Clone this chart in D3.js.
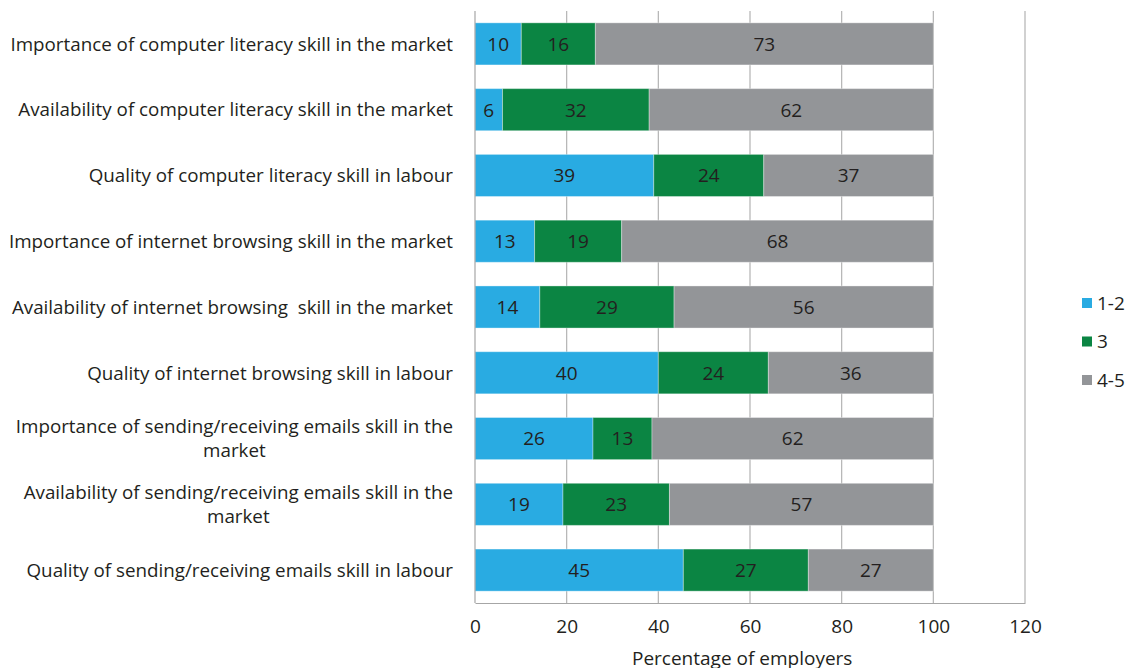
<!DOCTYPE html>
<html>
<head>
<meta charset="utf-8">
<script src="https://cdn.jsdelivr.net/npm/d3@7"></script>
<style>
  body { margin: 0; background: #fff; }
  svg text { font-family: "Open Sans", "Noto Sans", sans-serif; fill: #231f20; white-space: pre; }
</style>
</head>
<body>
<div id="chart"></div>
<script>
// Data (shares of employers, %)
var categories = [
  "Importance of computer literacy skill in the market",
  "Availability of computer literacy skill in the market",
  "Quality of computer literacy skill in labour",
  "Importance of internet browsing skill in the market",
  "Availability of internet browsing  skill in the market",
  "Quality of internet browsing skill in labour",
  "Importance of sending/receiving emails skill in the|market",
  "Availability of sending/receiving emails skill in the|market",
  "Quality of sending/receiving emails skill in labour"
];
var low = [10, 6, 39, 13, 14, 40, 26, 19, 45];   // 1-2
var mid = [16, 32, 24, 19, 29, 24, 13, 23, 27];  // 3
var high = [73, 62, 37, 68, 56, 36, 62, 57, 27]; // 4-5
var seriesNames = ["1-2", "3", "4-5"];
var xTicks = [0, 20, 40, 60, 80, 100, 120];
var colors = ["#29abe2", "#0b8543", "#939598"];

var width = 1125, height = 668;
var margin = {top: 11, right: 100, bottom: 65, left: 475};
var fs = 19;

var rows = categories.map(function(c, i) {
  return {cat: c, "1-2": low[i], "3": mid[i], "4-5": high[i]};
});

// bars fill to 100% (the rounded labels don't always add up)
var stack = d3.stack().keys(seriesNames).offset(d3.stackOffsetExpand);
var layers = stack(rows);

var x = d3.scaleLinear().domain([0, 120]).range([margin.left, 1025]);
var y = d3.scaleBand().domain(categories).range([margin.top, height - margin.bottom])
  .paddingInner(0.36).paddingOuter(0.18);

var svg = d3.select("#chart").append("svg")
  .attr("width", width)
  .attr("height", height);

// gridlines
svg.append("g")
  .selectAll("line")
  .data(xTicks.slice(1))
  .enter().append("line")
  .attr("x1", function(d) { return x(d); })
  .attr("x2", function(d) { return x(d); })
  .attr("y1", margin.top)
  .attr("y2", height - margin.bottom)
  .attr("stroke", "#b3b3b3")
  .attr("stroke-width", 1.2);

// bars
var layer = svg.append("g").selectAll("g")
  .data(layers)
  .enter().append("g")
  .attr("fill", function(d, i) { return colors[i]; });

layer.selectAll("rect")
  .data(function(d) { return d; })
  .enter().append("rect")
  .attr("x", function(d) { return x(d[0] * 100); })
  .attr("width", function(d) { return x(d[1] * 100) - x(d[0] * 100); })
  .attr("y", function(d) { return y(d.data.cat); })
  .attr("height", y.bandwidth())
  .attr("stroke", "#ffffff")
  .attr("stroke-opacity", 0.35)
  .attr("stroke-width", 1);

// value labels
layer.selectAll("text")
  .data(function(d) { return d.map(function(p) { return {p: p, key: d.key}; }); })
  .enter().append("text")
  .attr("x", function(d) { return x((d.p[0] + d.p[1]) / 2 * 100); })
  .attr("y", function(d) { return y(d.p.data.cat) + y.bandwidth() / 2; })
  .attr("dy", "0.36em")
  .attr("text-anchor", "middle")
  .attr("font-size", fs)
  .text(function(d) { return d.p.data[d.key]; });

// axes
var xAxis = d3.axisBottom(x).tickValues(xTicks).tickSize(0).tickPadding(17);
var gx = svg.append("g")
  .attr("transform", "translate(0," + (height - margin.bottom) + ")")
  .call(xAxis);
gx.select(".domain").attr("stroke", "#a6a6a6").attr("stroke-width", 1.2);
gx.selectAll("text").attr("font-size", fs).style("font-family", null);

svg.append("line")
  .attr("x1", margin.left).attr("x2", margin.left)
  .attr("y1", margin.top).attr("y2", height - margin.bottom)
  .attr("stroke", "#a6a6a6").attr("stroke-width", 1.2);

svg.append("text")
  .attr("x", x(58.3))
  .attr("y", 665)
  .attr("text-anchor", "middle")
  .attr("font-size", fs)
  .text("Percentage of employers");

// category labels: right-aligned, wrapped lines centred under the first
var labelRight = 453;
var lfs = 18.8;
categories.forEach(function(c) {
  var lines = c.split("|");
  var cy = y(c) + y.bandwidth() / 2;
  if (lines.length === 1) {
    svg.append("text")
      .attr("x", labelRight).attr("y", cy).attr("dy", "0.36em")
      .attr("text-anchor", "end").attr("font-size", lfs)
      .text(lines[0]);
  } else {
    var t = svg.append("text")
      .attr("x", labelRight).attr("y", cy - 12).attr("dy", "0.36em")
      .attr("text-anchor", "end").attr("font-size", lfs)
      .text(lines[0]);
    var w = t.node().getComputedTextLength();
    svg.append("text")
      .attr("x", labelRight - w / 2).attr("y", cy + 12).attr("dy", "0.36em")
      .attr("text-anchor", "middle").attr("font-size", lfs)
      .text(lines[1]);
  }
});

// legend
var legend = svg.append("g").selectAll("g")
  .data(seriesNames)
  .enter().append("g")
  .attr("transform", function(d, i) { return "translate(1082," + (303 + i * 38.5) + ")"; });
legend.append("rect")
  .attr("x", 0).attr("y", -5)
  .attr("width", 10).attr("height", 10)
  .attr("fill", function(d, i) { return colors[i]; });
legend.append("text")
  .attr("x", 15).attr("dy", "0.36em")
  .attr("font-size", fs)
  .text(function(d) { return d; });
</script>
</body>
</html>
